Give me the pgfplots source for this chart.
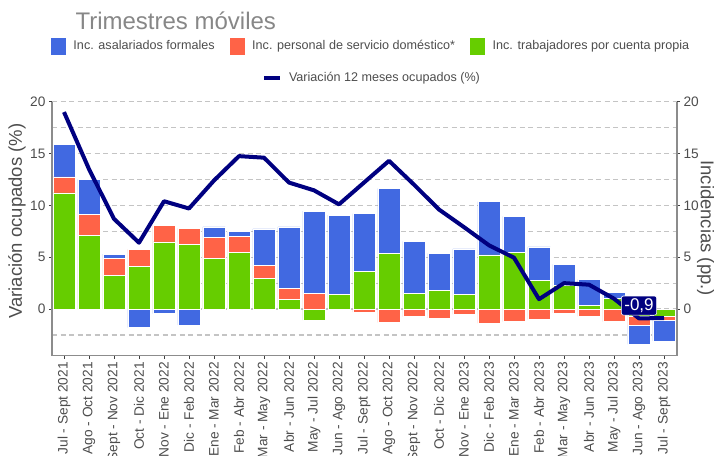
\documentclass[border=0pt]{standalone}
\usepackage{fontspec}
\setmainfont{Liberation Sans}
\usepackage{pgfplots}
\usepackage{pgfplotstable}
\pgfplotsset{compat=1.18}

\definecolor{cBlue}{HTML}{4169E1}
\definecolor{cRed}{HTML}{FF6347}
\definecolor{cGreen}{HTML}{66CD00}
\definecolor{cLine}{HTML}{000080}
\definecolor{cGrid}{HTML}{C4C4C4}
\definecolor{cAxis}{HTML}{8C8C8C}
\definecolor{cText}{HTML}{4D4D4D}

% gp/rp/bp = positive parts, gn/rn/bn = negative parts (stacked separately from 0)
\pgfplotstableread{
x  gp    rp   bp   gn    rn    bn    ln
0  11.20 1.55 3.10 0     0     0     19.00
1  7.10  2.05 3.35 0     0     0     13.50
2  3.25  1.65 0.40 0     0     0     8.70
3  4.12  1.64 0    0     0     -1.80 6.40
4  6.47  1.61 0    0     0     -0.45 10.40
5  6.25  1.54 0    0     0     -1.55 9.70
6  4.90  2.02 1.00 0     0     0     12.40
7  5.50  1.52 0.45 0     0     0     14.75
8  2.93  1.29 3.51 0     0     0     14.60
9  0.93  1.07 5.92 0     0     0     12.20
10 0     1.51 7.93 -1.06 0     0     11.45
11 1.38  0    7.67 0     0     0     10.10
12 3.67  0    5.54 0     -0.29 0     12.20
13 5.38  0    6.25 0     -1.32 0     14.30
14 1.51  0    5.03 0     -0.74 0     12.00
15 1.80  0    3.58 0     -0.87 0     9.60
16 1.38  0    4.42 0     -0.52 0     7.90
17 5.22  0    5.15 0     -1.38 0     6.15
18 5.47  0    3.48 0     -1.22 0     4.95
19 2.77  0    3.22 0     -1.03 0     0.95
20 2.29  0    2.03 0     -0.38 0     2.50
21 0.37  0    2.50 0     -0.71 0     2.35
22 1.03  0    0.55 0     -1.22 0     1.00
23 0     0    0    -0.74 -0.81 -1.86 -0.90
24 0     0    0    -0.68 -0.38 -2.00 -0.87
}\data

\pgfplotsset{
  base/.style={
    at={(52pt,-355.7pt)}, anchor=south west,
    scale only axis, width=625pt, height=254pt,
    xmin=-0.48, xmax=24.52, ymin=-4.5, ymax=20,
    /pgf/number format/assume math mode=true,
    tick label style={font=\fontsize{13.7}{16}\selectfont, text=cText},
    tick align=outside, major tick length=3pt, minor tick length=0pt,
    tick style={black!75, line width=1pt},
    axis line style={cAxis, line width=1.3pt, -},
  },
  barstyle/.style={draw=white, line width=0.5pt},
  legstyle/.style={draw=none, fill=none, inner sep=0pt, outer sep=0pt,
    font=\fontsize{12.6}{14}\selectfont, text=cText,
    /tikz/every odd column/.append style={column sep=5pt}},
}

\begin{document}
\begin{tikzpicture}
\useasboundingbox (0,0) rectangle (714pt,-455pt);

\node[anchor=base west, font=\fontsize{24}{28}\selectfont, text=black!47] at (72pt,-29pt) {Trimestres móviles};

\begin{axis}[base,
  ybar stacked, bar width=0.9,
  axis x line*=bottom, axis y line*=left,
  xtick={0,...,24},
  xticklabels={Jul - Sept 2021, Ago - Oct 2021, Sept - Nov 2021, Oct - Dic 2021, Nov - Ene 2022, Dic - Feb 2022, Ene - Mar 2022, Feb - Abr 2022, Mar - May 2022, Abr - Jun 2022, May - Jul 2022, Jun - Ago 2022, Jul - Sept 2022, Ago - Oct 2022, Sept - Nov 2022, Oct - Dic 2022, Nov - Ene 2023, Dic - Feb 2023, Ene - Mar 2023, Feb - Abr 2023, Mar - May 2023, Abr - Jun 2023, May - Jul 2023, Jun - Ago 2023, Jul - Sept 2023},
  x tick label style={rotate=90, anchor=east},
  ytick={0,5,10,15,20}, minor ytick={-2.5,2.5,7.5,12.5,17.5},
  ymajorgrids, yminorgrids,
  major grid style={cGrid, line width=1.2pt, dash pattern=on 5pt off 3.5pt},
  minor grid style={cGrid, line width=1.2pt, dash pattern=on 5pt off 3.5pt},
  ylabel={Variación ocupados (\%)},
  ylabel style={at={(axis description cs:-0.056,0.53)}, anchor=center, font=\fontsize{18.5}{22}\selectfont, text=cText},
  reverse legend, legend columns=3,
  legend style={legstyle, at={(axis description cs:-0.0032,1.219)}, anchor=west,
    /tikz/every even column/.append style={column sep=12pt}},
  legend image code/.code={\fill[#1] (0pt,-9pt) rectangle (16pt,9pt);},
]
\addplot[barstyle, fill=cGreen] table[x=x, y=gp]{\data};
\addlegendentry{Inc. trabajadores por cuenta propia}
\addplot[barstyle, fill=cRed] table[x=x, y=rp]{\data};
\addlegendentry{Inc. personal de servicio doméstico*}
\addplot[barstyle, fill=cBlue] table[x=x, y=bp]{\data};
\addlegendentry{Inc. asalariados formales}
\end{axis}

\begin{axis}[base, ybar stacked, bar width=0.9, hide axis]
\addplot[barstyle, fill=cGreen] table[x=x, y=gn]{\data};
\addplot[barstyle, fill=cRed] table[x=x, y=rn]{\data};
\addplot[barstyle, fill=cBlue] table[x=x, y=bn]{\data};
\end{axis}

\begin{axis}[base,
  axis x line=none, axis y line*=right,
  ytick={0,5,10,15,20},
  ylabel={Incidencias (pp.)},
  every axis y label/.style={at={(axis description cs:1.046,0.502)}, anchor=center, rotate=-90,
    font=\fontsize{18.5}{22}\selectfont, text=cText},
  legend style={legstyle, at={(axis description cs:0.336,1.093)}, anchor=west},
  legend image code/.code={\draw[#1] (0pt,0pt) -- (16pt,0pt);},
]
\addplot[cLine, line width=4pt, line join=round] table[x=x, y=ln]{\data};
\addlegendentry{Variación 12 meses ocupados (\%)}
\node[fill=cLine, draw=white, line width=0.6pt, rounded corners=2pt, text=white,
  font=\fontsize{17}{19}\selectfont, inner xsep=3pt, inner ysep=2.5pt, anchor=south, yshift=3pt]
  at (axis cs:23,-0.9) {-0,9};
\end{axis}
\end{tikzpicture}
\end{document}
